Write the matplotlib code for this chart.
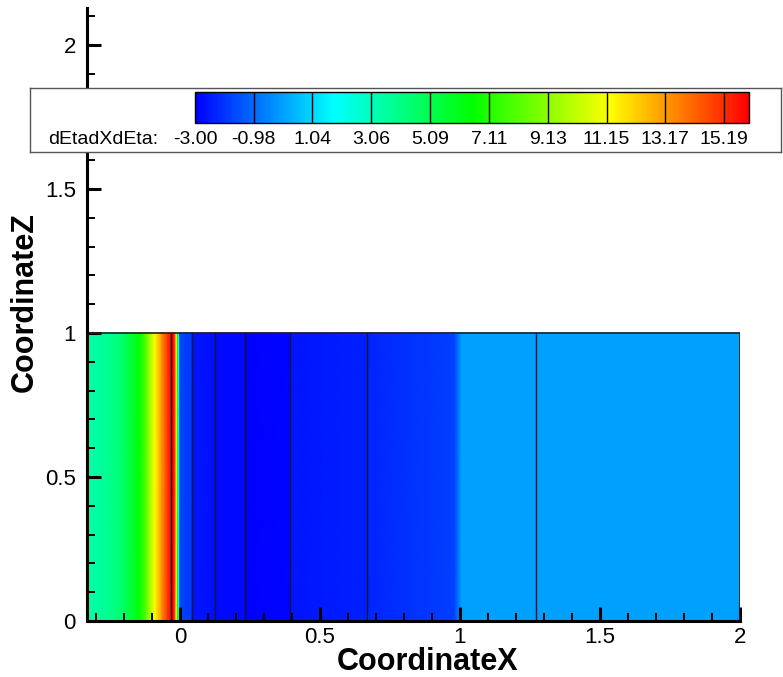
import numpy as np
import matplotlib
matplotlib.use('Agg')
import matplotlib.pyplot as plt
from matplotlib.colors import LinearSegmentedColormap, Normalize
from matplotlib.cm import ScalarMappable

plt.rcParams['font.family'] = ['Liberation Sans', 'DejaVu Sans']

# profile of dEtadXdEta along CoordinateX (field is constant in Z)
x_nodes = [-0.332, -0.25, -0.2, -0.146, -0.12, -0.09, -0.065, -0.045, -0.032,
           -0.025, -0.018, -0.013, -0.008, -0.004, 0.0, 0.043, 0.044, 0.125,
           0.126, 0.232, 0.233, 0.393, 0.394, 0.668, 0.669, 0.98, 1.005,
           1.271, 2.0]
values = [3.3, 3.9, 4.7, 6.4, 8.3, 11.2, 13.3, 15.0, 15.9,
          16.0, 15.0, 11.3, 6.5, 2.0, -1.7, -1.9, -2.6, -2.7,
          -2.8, -2.8, -3.0, -2.9, -2.6, -2.4, -2.3, -1.8, 0.0,
          0.0, 0.0]
z_nodes = [0.0, 1.0]

# zone boundaries drawn as dark lines
zone_x = [-0.032, 0.043, 0.125, 0.232, 0.393, 0.668, 1.271]

levels = [-3.00, -0.98, 1.04, 3.06, 5.09, 7.11, 9.13, 11.15, 13.17, 15.19]
level_labels = ['-3.00', '-0.98', '1.04', '3.06', '5.09', '7.11', '9.13',
                '11.15', '13.17', '15.19']
vmin, vmax = -3.0, 16.05

x_ticks = [0, 0.5, 1, 1.5, 2]
x_ticklabels = ['0', '0.5', '1', '1.5', '2']
y_ticks = [0, 0.5, 1, 1.5, 2]
y_ticklabels = ['0', '0.5', '1', '1.5', '2']

cmap = LinearSegmentedColormap.from_list(
    'small_rainbow', ['#0000ff', '#00ffff', '#00ff00', '#ffff00', '#ff0000'])

fig = plt.figure(figsize=(7.83, 6.77), dpi=100)
ax = fig.add_axes([87/783, 56/677, 653/783, 613/677])

X, Z = np.meshgrid(x_nodes, z_nodes)
C = np.tile(values, (len(z_nodes), 1))
ax.pcolormesh(X, Z, C, shading='gouraud', cmap=cmap, vmin=vmin, vmax=vmax)
ax.vlines(zone_x, 0, 1, colors='#14142a', lw=1.0)
ax.plot([x_nodes[0], x_nodes[-1], x_nodes[-1]], [1, 1, 0], color='#222222', lw=1.2)

ax.set_xlim(-0.332, 2.0)
ax.set_ylim(0, 2.128)
ax.spines['top'].set_visible(False)
ax.spines['right'].set_visible(False)
for s in ['left', 'bottom']:
    ax.spines[s].set_linewidth(2.2)
    ax.spines[s].set_zorder(5)

ax.set_xticks(x_ticks)
ax.set_xticklabels(x_ticklabels)
ax.set_yticks(y_ticks)
ax.set_yticklabels(y_ticklabels)
ax.set_xticks(np.arange(-3, 21) / 10, minor=True)
ax.set_yticks(np.arange(0, 22) / 10, minor=True)
ax.tick_params(which='major', direction='in', length=10, width=2.2, labelsize=16)
ax.tick_params(which='minor', direction='in', length=6, width=1.4)
ax.tick_params(axis='x', which='major', pad=4)
ax.tick_params(axis='y', which='major', pad=8)

ax.set_xlabel('CoordinateX', fontsize=22, fontweight='bold', va='baseline')
ax.set_ylabel('CoordinateZ', fontsize=22, fontweight='bold', va='center')
ax.xaxis.set_label_coords(0.521, -0.08)
ax.yaxis.set_label_coords(-0.095, 0.521)

# legend box
lax = fig.add_axes([30/783, 525/677, 751/783, 64/677])
lax.set_xticks([])
lax.set_yticks([])
lax.set_facecolor('white')
for s in lax.spines.values():
    s.set_color('#555555')
    s.set_linewidth(1.0)

cax = fig.add_axes([195/783, 554/677, 554/783, 31/677])
sm = ScalarMappable(norm=Normalize(vmin, vmax), cmap=cmap)
cb = fig.colorbar(sm, cax=cax, orientation='horizontal')
cb.set_ticks(levels)
cb.set_ticklabels(level_labels)
cax.tick_params(length=0, labelsize=14, pad=6)
for lv in levels[1:]:
    cax.axvline(lv, color='k', lw=1.0)
cb.outline.set_linewidth(1.0)
fig.text(48/783, 1 - 140/677, 'dEtadXdEta:', va='center', ha='left', fontsize=14)

fig.savefig('out.png', dpi=100)
